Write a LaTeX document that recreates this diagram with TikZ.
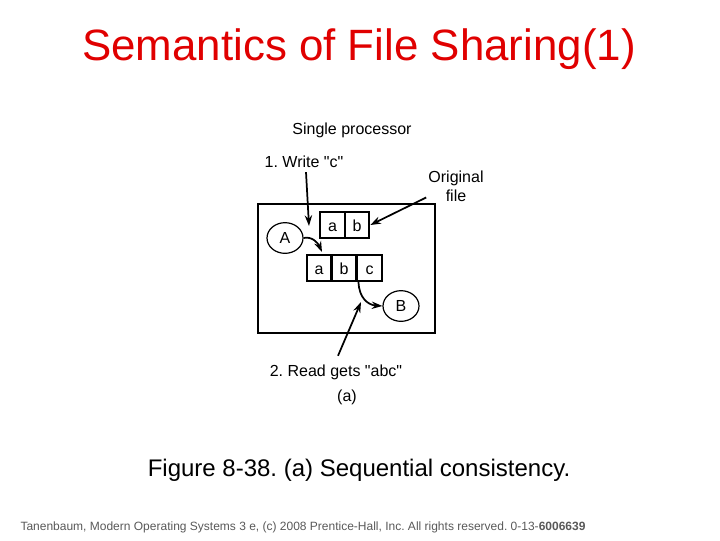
\documentclass[tikz,border=0pt]{standalone}
\usepackage{fontspec}
\setmainfont{Liberation Sans}[Ligatures=TeXOff]
\usetikzlibrary{arrows.meta,shapes.geometric}
\definecolor{titlered}{HTML}{E00000}
\frenchspacing
\begin{document}
\begin{tikzpicture}[x=0.75pt,y=-0.75pt,
  lbl/.style={font=\fontsize{12pt}{14pt}\selectfont, inner sep=0pt, align=center},
  cell/.style={draw, line width=1.4pt, minimum width=18.5pt, minimum height=19.5pt, inner sep=0pt, text height=9pt, text depth=0pt, font=\fontsize{12pt}{14pt}\selectfont},
  proc/.style={draw, ellipse, line width=0.9pt, minimum width=27pt, minimum height=23pt, inner sep=0pt, font=\fontsize{12pt}{14pt}\selectfont},
  arr/.style={line width=1.3pt, -{Stealth[length=8pt,width=5.5pt]}}]
\useasboundingbox (0,0) rectangle (720,540);
\node[text=titlered, font=\fontsize{32.9pt}{36pt}\selectfont, inner sep=0pt, anchor=base] (title) at (359,60) {Semantics of File Sharing(1)};

\node[draw, line width=1.5pt, minimum width=132.75pt, minimum height=96.75pt, inner sep=0pt] (box) at (346.5,268.5) {};

\node[cell] (a1) at (332.5,225) {a};
\node[cell] (b1) at (357,225) {b};
\node[cell] (a2) at (319,268) {a};
\node[cell] (b2) at (344,268) {b};
\node[cell] (c2) at (369.5,268) {c};

\node[proc] (A) at (285,238) {A};
\node[proc] (B) at (401,306) {B};

\node[lbl] (single) at (352,130) {Single processor};
\node[lbl] (write) at (304,162) {1. Write "c"};
\node[lbl] (orig) at (456,186) {Original\\file};
\node[lbl] (read) at (336,372.5) {2. Read gets "abc"};
\node[lbl] (sub) at (347,397.5) {(a)};

\coordinate (wtip) at (309,226);
\draw[arr] (write.south -| 306,0) ++(0,4) -- (wtip);
\draw[arr] (orig.south west) ++(-2,-4) -- (b1.east);
\draw[arr] (A.east) .. controls (312,236) and (318,243) .. (322,252);
\draw[arr] (c2.south) ++(-11,0) .. controls (359,298) and (368,305) .. (B.west);
\draw[arr] (read.north) ++(2,-9) -- (361,302);

\node[font=\fontsize{18pt}{22pt}\selectfont, inner sep=0pt] (cap) at (359,470) {Figure 8-38. (a) Sequential consistency.};
\node[font=\fontsize{9pt}{10pt}\selectfont, text=black!65, inner sep=0pt] (foot) at (303,527.5) {Tanenbaum, Modern Operating Systems 3 e, (c) 2008 Prentice-Hall, Inc. All rights reserved. 0-13-\textbf{6006639}};
\end{tikzpicture}
\end{document}
